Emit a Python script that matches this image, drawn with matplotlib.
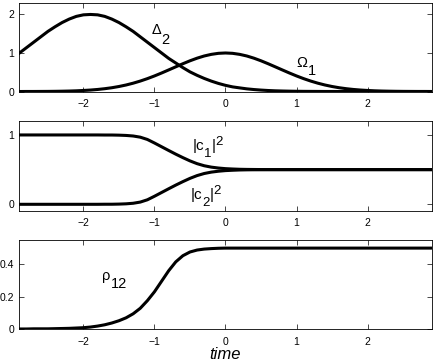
import matplotlib
matplotlib.use("Agg")
import matplotlib.pyplot as plt
import matplotlib.transforms as mtransforms

plt.rcParams["font.family"] = ["Liberation Sans", "DejaVu Sans"]

# time grid, step 0.1
time = [-2.9, -2.8, -2.7, -2.6, -2.5, -2.4, -2.3, -2.2, -2.1, -2.0,
        -1.9, -1.8, -1.7, -1.6, -1.5, -1.4, -1.3, -1.2, -1.1, -1.0,
        -0.9, -0.8, -0.7, -0.6, -0.5, -0.4, -0.3, -0.2, -0.1, 0.0,
        0.1, 0.2, 0.3, 0.4, 0.5, 0.6, 0.7, 0.8, 0.9, 1.0,
        1.1, 1.2, 1.3, 1.4, 1.5, 1.6, 1.7, 1.8, 1.9, 2.0,
        2.1, 2.2, 2.3, 2.4, 2.5, 2.6, 2.7, 2.8, 2.9]

# top panel
delta2 = [1.00, 1.14, 1.28, 1.42, 1.56, 1.68, 1.79, 1.88, 1.95, 1.99,
          2.00, 1.99, 1.95, 1.88, 1.79, 1.68, 1.56, 1.42, 1.28, 1.14,
          1.00, 0.86, 0.74, 0.62, 0.51, 0.42, 0.34, 0.27, 0.21, 0.16,
          0.12, 0.094, 0.069, 0.051, 0.037, 0.026, 0.018, 0.013, 0.009, 0.006,
          0.004, 0.003, 0.002, 0.001, 0.001, 0.0, 0.0, 0.0, 0.0, 0.0,
          0.0, 0.0, 0.0, 0.0, 0.0, 0.0, 0.0, 0.0, 0.0]
omega1 = [0.000, 0.001, 0.001, 0.002, 0.003, 0.005, 0.008, 0.012, 0.018, 0.027,
          0.038, 0.053, 0.073, 0.098, 0.130, 0.169, 0.216, 0.271, 0.334, 0.404,
          0.480, 0.560, 0.641, 0.721, 0.797, 0.865, 0.922, 0.964, 0.991, 1.000,
          0.991, 0.964, 0.922, 0.865, 0.797, 0.721, 0.641, 0.560, 0.480, 0.404,
          0.334, 0.271, 0.216, 0.169, 0.130, 0.098, 0.073, 0.053, 0.038, 0.027,
          0.018, 0.012, 0.008, 0.005, 0.003, 0.002, 0.001, 0.001, 0.000]

# middle panel
c1_sq = [1.0, 1.0, 1.0, 1.0, 1.0, 1.0, 1.0, 1.0, 1.0, 1.0,
         1.0, 1.0, 0.999, 0.999, 0.997, 0.993, 0.985, 0.968, 0.935, 0.884,
         0.830, 0.776, 0.723, 0.673, 0.626, 0.586, 0.556, 0.536, 0.523, 0.514,
         0.509, 0.505, 0.503, 0.502, 0.501, 0.5, 0.5, 0.5, 0.5, 0.5,
         0.5, 0.5, 0.5, 0.5, 0.5, 0.5, 0.5, 0.5, 0.5, 0.5,
         0.5, 0.5, 0.5, 0.5, 0.5, 0.5, 0.5, 0.5, 0.5]
c2_sq = [0.0, 0.0, 0.0, 0.0, 0.0, 0.0, 0.0, 0.0, 0.0, 0.0,
         0.0, 0.0, 0.001, 0.001, 0.003, 0.007, 0.015, 0.032, 0.065, 0.116,
         0.170, 0.224, 0.277, 0.327, 0.374, 0.414, 0.444, 0.464, 0.477, 0.486,
         0.491, 0.495, 0.497, 0.498, 0.499, 0.5, 0.5, 0.5, 0.5, 0.5,
         0.5, 0.5, 0.5, 0.5, 0.5, 0.5, 0.5, 0.5, 0.5, 0.5,
         0.5, 0.5, 0.5, 0.5, 0.5, 0.5, 0.5, 0.5, 0.5]

# bottom panel
rho12 = [0.0, 0.0, 0.001, 0.001, 0.001, 0.002, 0.003, 0.004, 0.006, 0.008,
         0.012, 0.018, 0.026, 0.037, 0.051, 0.069, 0.094, 0.128, 0.175, 0.230,
         0.295, 0.360, 0.415, 0.453, 0.476, 0.488, 0.494, 0.497, 0.499, 0.5,
         0.5, 0.5, 0.5, 0.5, 0.5, 0.5, 0.5, 0.5, 0.5, 0.5,
         0.5, 0.5, 0.5, 0.5, 0.5, 0.5, 0.5, 0.5, 0.5, 0.5,
         0.5, 0.5, 0.5, 0.5, 0.5, 0.5, 0.5, 0.5, 0.5]

x_ticks = [-2, -1, 0, 1, 2]


def style(ax, yticks, yticklabels, ylim):
    ax.set_xlim(-2.9, 2.9)
    ax.set_ylim(*ylim)
    ax.set_xticks(x_ticks)
    ax.set_xticklabels([str(v).replace("-", "\u2212") for v in x_ticks])
    ax.set_yticks(yticks)
    ax.set_yticklabels(yticklabels)
    ax.tick_params(direction="in", top=True, right=True, length=3.5,
                   width=0.5, labelsize=7.5)
    ax.tick_params(axis="x", pad=5.5)
    ax.tick_params(axis="y", pad=4)
    for s in ax.spines.values():
        s.set_linewidth(0.6)


def rich_text(ax, x, y, parts):
    # parts: (string, fontsize, vertical shift in pixels), laid out left to right
    renderer = fig.canvas.get_renderer()
    dx = 0.0
    for s, size, dy in parts:
        tr = mtransforms.offset_copy(ax.transData, fig=fig, x=dx, y=dy,
                                     units="dots")
        t = ax.text(x, y, s, fontsize=size, transform=tr,
                    ha="left", va="baseline")
        dx += t.get_window_extent(renderer).width


fig = plt.figure(figsize=(4.36, 3.64), dpi=100)
left, width = 0.0447, 0.945
ax1 = fig.add_axes([left, 0.7486, width, 0.2445])
ax2 = fig.add_axes([left, 0.4212, width, 0.2473])
ax3 = fig.add_axes([left, 0.0962, width, 0.2453])

lw = 2.2
ax1.plot(time, delta2, color="black", lw=lw)
ax1.plot(time, omega1, color="black", lw=lw)
style(ax1, [0, 1, 2], ["0", "1", "2"], (0, 2.31))
rich_text(ax1, -1.04, 1.49, [("\u0394", 10.5, 0), ("2", 10.5, -10)])
rich_text(ax1, 1.0, 0.64, [("\u03a9", 10.5, 0), ("1", 10.5, -8)])

ax2.plot(time, c1_sq, color="black", lw=lw)
ax2.plot(time, c2_sq, color="black", lw=lw)
style(ax2, [0, 1], ["0", "1"], (-0.092, 1.206))
rich_text(ax2, -0.465, 0.79, [("|c", 11, 0), ("1", 9.5, -7),
                              ("|", 11, 0), ("2", 9.5, 5)])
rich_text(ax2, -0.493, 0.078, [("|c", 11, 0), ("2", 9.5, -7),
                               ("|", 11, 0), ("2", 9.5, 5)])

ax3.plot(time, rho12, color="black", lw=lw)
style(ax3, [0, 0.2, 0.4], ["0", "0.2", "0.4"], (0, 0.552))
rich_text(ax3, -1.732, 0.305, [("\u03c1", 10.5, 0), ("12", 10.5, -8.7)])
ax3.set_xlabel("time", fontsize=12, style="italic", labelpad=0)

fig.savefig("out.png", dpi=100)
